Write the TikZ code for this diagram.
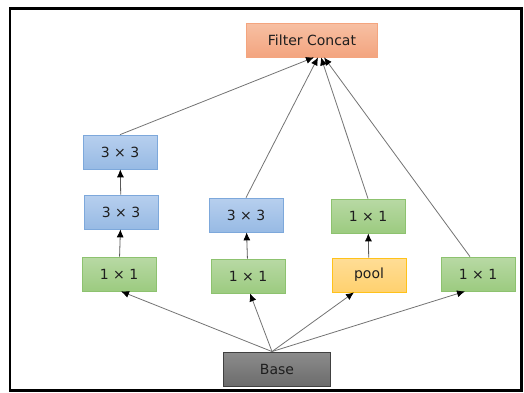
\documentclass[tikz,border=0pt]{standalone}
\usepackage{fontspec}
\setmainfont{DejaVu Sans}
\usepackage{tikz}
\usetikzlibrary{positioning,arrows.meta}
\definecolor{concattop}{HTML}{F7C0A3}
\definecolor{concatbot}{HTML}{F3A47F}
\definecolor{concatline}{HTML}{F4A57F}
\definecolor{convtop}{HTML}{B7CFEE}
\definecolor{convbot}{HTML}{97BAE4}
\definecolor{convline}{HTML}{7DA8DB}
\definecolor{reducetop}{HTML}{B8D9A4}
\definecolor{reducebot}{HTML}{9CCB80}
\definecolor{reduceline}{HTML}{8DC26F}
\definecolor{pooltop}{HTML}{FFDD96}
\definecolor{poolbot}{HTML}{FFD16F}
\definecolor{poolline}{HTML}{FFC21A}
\definecolor{basetop}{HTML}{8C8C8C}
\definecolor{basebot}{HTML}{6C6C6C}
\definecolor{linkgray}{HTML}{5A5A5A}
\definecolor{txt}{HTML}{1E1E1E}
\tikzset{
  layer/.style={draw, rectangle, minimum width=74pt, minimum height=34pt, inner sep=0pt, text=txt, line width=0.7pt},
  conv/.style={layer, top color=convtop, bottom color=convbot, draw=convline},
  reduce/.style={layer, top color=reducetop, bottom color=reducebot, draw=reduceline},
  poolbox/.style={layer, top color=pooltop, bottom color=poolbot, draw=poolline},
  concat/.style={layer, minimum width=131pt, top color=concattop, bottom color=concatbot, draw=concatline},
  basebox/.style={layer, minimum width=107pt, top color=basetop, bottom color=basebot, draw=black!75, line width=0.9pt},
  arrow/.style={-{Latex[length=8pt,width=7pt,color=black]}, draw=linkgray, line width=0.8pt},
  link/.style={draw=linkgray!85, line width=0.8pt, -{Latex[length=8pt,width=7pt,color=black]}}
}

\begin{document}
\begin{tikzpicture}[x=1pt, y=-1pt, font=\fontsize{14}{16}\selectfont]
  \useasboundingbox (0,0) rectangle (524,392);
  \draw[line width=2.4pt] (10,8.5) rectangle (521.5,390.5);

  \node[concat] (concat) at (312,40) {Filter Concat};

  \node[conv] (c33b) at (120,152) {3 × 3};
  \node[conv] (c33a) at (121,212) {3 × 3};
  \node[reduce] (r1) at (119,274) {1 × 1};

  \node[conv] (c33) at (246,215) {3 × 3};
  \node[reduce] (r2) at (248,276) {1 × 1};

  \node[reduce] (r3) at (368,216) {1 × 1};
  \node[poolbox] (pool) at (369,275) {pool};

  \node[reduce] (r4) at (478,274) {1 × 1};

  \node[basebox] (base) at (277,369) {Base};

  % base to first layer
  \draw[link] ([xshift=-5pt]base.north) -- ([xshift=2pt]r1.south);
  \draw[link] ([xshift=-5pt]base.north) -- ([xshift=2pt]r2.south);
  \draw[link] ([xshift=-5pt]base.north) -- ([xshift=-15pt]pool.south);
  \draw[link] ([xshift=-5pt]base.north) -- ([xshift=-13pt]r4.south);

  % inside the branches
  \draw[arrow] (r1) -- (c33a);
  \draw[arrow] (c33a) -- (c33b);
  \draw[arrow] (r2) -- (c33);
  \draw[arrow] (pool) -- (r3);

  % branches to concat
  \draw[link] (c33b.north) -- ([xshift=2pt]concat.south);
  \draw[link] (c33.north) -- ([xshift=6pt]concat.south);
  \draw[link] (r3.north) -- ([xshift=9pt]concat.south);
  \draw[link] ([xshift=-8pt]r4.north) -- ([xshift=12pt]concat.south);
\end{tikzpicture}
\end{document}
